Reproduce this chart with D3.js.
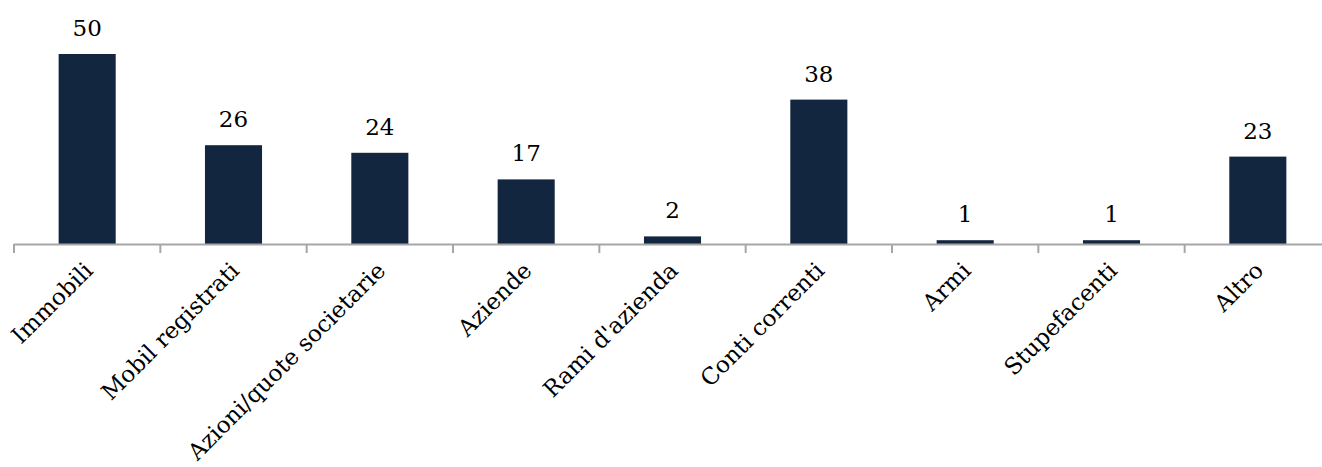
<!DOCTYPE html>
<html><head><meta charset="utf-8">
<script src="https://cdn.jsdelivr.net/npm/d3@7"></script>
<style>html,body{margin:0;padding:0;background:#fff;}svg{display:block;}</style>
</head><body>
<svg id="chart" width="1322" height="467"></svg>
<script>
const categories = ["Immobili","Mobil registrati","Azioni/quote societarie","Aziende","Rami d'azienda","Conti correnti","Armi","Stupefacenti","Altro"];
const values = [50,26,24,17,2,38,1,1,23];

const svg = d3.select("#chart");
const baseY = 244;
const x = d3.scaleBand().domain(categories).range([14, 1331]).paddingInner(0.61).paddingOuter(0.305);
const y = d3.scaleLinear().domain([0, 50]).range([baseY, 54]);
const font = "'DejaVu Serif', serif";

svg.selectAll("rect.bar").data(categories).join("rect")
  .attr("class","bar")
  .attr("x", d => x(d))
  .attr("width", x.bandwidth())
  .attr("y", (d,i) => y(values[i]))
  .attr("height", (d,i) => baseY - y(values[i]))
  .attr("fill", "#13263f");

svg.selectAll("text.val").data(categories).join("text")
  .attr("class","val")
  .attr("x", d => x(d) + x.bandwidth()/2)
  .attr("y", (d,i) => y(values[i]) - 18)
  .attr("text-anchor","middle")
  .style("font-family", font)
  .style("font-size","23px")
  .attr("fill","#000")
  .text((d,i) => values[i]);

// axis
const step = x.step();
const ticks = d3.range(categories.length + 1).map(i => 14 + i*step);
svg.append("line").attr("x1",14).attr("x2",1331).attr("y1",baseY+0.5).attr("y2",baseY+0.5)
  .attr("stroke","#a6a6a6").attr("stroke-width",2);
svg.selectAll("line.tick").data(ticks).join("line").attr("class","tick")
  .attr("x1",d=>d).attr("x2",d=>d).attr("y1",baseY).attr("y2",baseY+9)
  .attr("stroke","#a6a6a6").attr("stroke-width",2);

svg.selectAll("text.cat").data(categories).join("text")
  .attr("class","cat")
  .attr("transform", d => `translate(${x(d)+x.bandwidth()/2+7},${baseY+28}) rotate(-45)`)
  .attr("text-anchor","end")
  .style("font-family", font)
  .style("font-size","23px")
  .attr("fill","#000")
  .text(d => d);
</script>
</body></html>
